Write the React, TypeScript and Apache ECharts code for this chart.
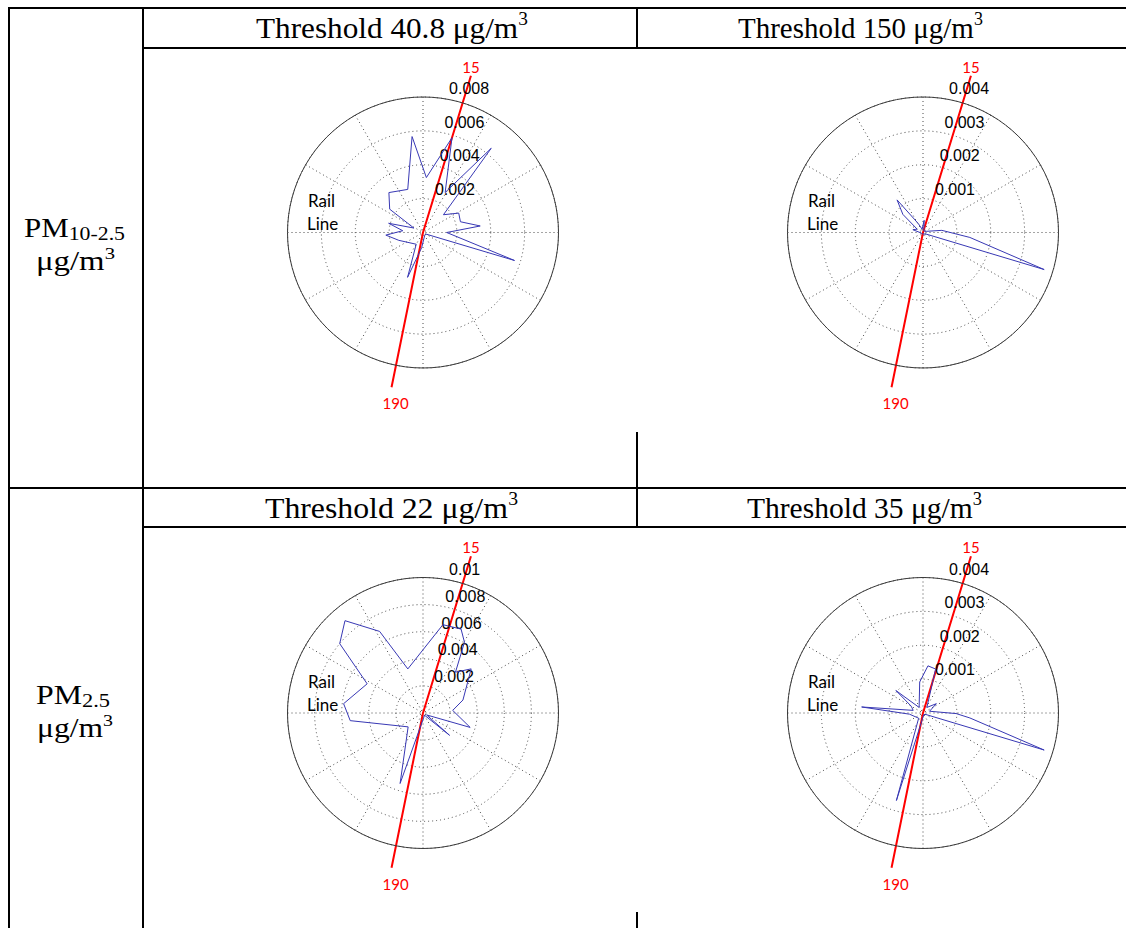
import React, { useEffect, useRef } from "react";
import * as echarts from "echarts";

// ---------------- data ----------------
const rowSubscripts = ["10-2.5", "2.5"];
const thresholds = ["40.8", "150", "22", "35"];

const ringsPm10Low = [0.002, 0.004, 0.006, 0.008];
const ringsPm10High = [0.001, 0.002, 0.003, 0.004];
const ringsPm25Low = [0.002, 0.004, 0.006, 0.008, 0.01];
const ringsPm25High = [0.001, 0.002, 0.003, 0.004];

// bearing (deg clockwise from north) and value
const pm10LowDir = [353.5, 3.5, 17, 29, 39, 49, 61.5, 74, 83.5, 90, 107, 118, 150, 185, 199, 210, 252, 266, 275, 285, 296, 305, 319.5, 340.5];
const pm10LowVal = [0.0057, 0.00325, 0.00585, 0.0027, 0.0064, 0.0016, 0.0024, 0.0023, 0.0034, 0.0014, 0.00565, 0.0002, 0.0002, 0.0009, 0.0028, 0.0008, 0.0015, 0.0022, 0.0012, 0.0021, 0.0006, 0.0024, 0.0031, 0.0027];

const pm10HighDir = [5.5, 30, 70, 83.5, 96, 107, 117, 150, 200, 250, 285.5, 300, 312, 321.5, 332, 345];
const pm10HighVal = [0.00036, 0.00005, 0.0001, 0.00056, 0.00139, 0.00374, 0.0001, 0.00005, 0.00005, 0.00005, 0.00031, 0.0002, 0.0008, 0.00123, 0.0003, 0.0001];

const pm25LowDir = [12.7, 24.4, 30.4, 38.5, 47.5, 72, 85, 107, 118, 130, 145, 198, 227, 264, 276.7, 297.6, 309.8, 319.8, 332, 341];
const pm25LowVal = [0.00668, 0.0068, 0.00605, 0.00385, 0.00482, 0.0031, 0.0022, 0.00364, 0.0003, 0.00256, 0.0002, 0.00547, 0.0015, 0.0054, 0.0059, 0.00465, 0.008, 0.00892, 0.00682, 0.00344];

const pm25HighDir = [6, 16, 35, 55, 75, 91, 96, 107, 117, 150, 196.9, 220, 265, 275.6, 285, 300, 309.7, 325, 353.9];
const pm25HighVal = [0.0014, 0.00135, 0.0002, 0.00048, 0.0002, 0.00098, 0.00139, 0.00374, 0.0001, 0.00005, 0.0027, 0.0002, 0.0004, 0.00182, 0.0003, 0.0004, 0.00104, 0.0002, 0.00092];

const railTopLabel = "15";
const railBottomLabel = "190";
const railTopBearing = 17;
const railBottomBearing = 191.5;
const railWords = ["Rail", "Line"];

// ---------------- layout ----------------
const W = 1126;
const H = 928;
const R = 135.5;
const plots = [
  { center: [423, 232.5], rings: ringsPm10Low, dir: pm10LowDir, val: pm10LowVal, head: [256, 528, 28] },
  { center: [923, 232.5], rings: ringsPm10High, dir: pm10HighDir, val: pm10HighVal, head: [738, 983, 28] },
  { center: [423, 713], rings: ringsPm25Low, dir: pm25LowDir, val: pm25LowVal, head: [265, 518, 508] },
  { center: [923, 713], rings: ringsPm25High, dir: pm25HighDir, val: pm25HighVal, head: [747, 982, 508] },
];
const rowLayout = [
  { pm: [24, 125, 228], unit: [36, 115, 261] },
  { pm: [36, 110, 695], unit: [37, 113, 728] },
];

const SERIF = "'Liberation Serif', 'Times New Roman', serif";
const SANS = "'Liberation Sans', Arial, sans-serif";
const LABEL = "Lato, 'Open Sans', sans-serif";

function measure(txt: string, font: string): number {
  const c = document.createElement("canvas").getContext("2d");
  if (!c) return txt.length * 10;
  c.font = font;
  return c.measureText(txt).width;
}

function composite(base: string, extra: string, left: number, right: number, cy: number, size: number, exSize: number, dy: number) {
  const wb = measure(base, `${size}px ${SERIF}`);
  const we = measure(extra, `${exSize}px ${SERIF}`);
  let k = (right - left) / (wb + we);
  if (!isFinite(k) || k <= 0) k = 1;
  k = Math.max(0.85, Math.min(1.3, k));
  return [
    { type: "text", x: left, y: cy, scaleX: k, style: { text: base, font: `${size}px ${SERIF}`, fill: "#000", align: "left", verticalAlign: "middle" } },
    { type: "text", x: left + wb * k, y: cy + dy, scaleX: k, style: { text: extra, font: `${exSize}px ${SERIF}`, fill: "#000", align: "left", verticalAlign: "middle" } },
  ];
}

export default function App() {
  const ref = useRef<HTMLDivElement>(null);
  useEffect(() => {
    if (!ref.current) return;
    const chart = echarts.init(ref.current, null, { renderer: "svg", width: W, height: H });
    const dotted = { color: "#4a4a4a", width: 1, type: [1, 3] as any };
    const option: any = {
      animation: false,
      backgroundColor: "#fff",
      polar: plots.map((p) => ({ center: p.center, radius: R })),
      angleAxis: plots.map((p, i) => ({
        polarIndex: i, type: "value", min: 0, max: 360, interval: 30, startAngle: 90, clockwise: true,
        axisLine: { show: true, lineStyle: { color: "#3a3a3a", width: 1 } },
        axisTick: { show: false }, axisLabel: { show: false },
        splitLine: { show: true, lineStyle: dotted },
      })),
      radiusAxis: plots.map((p, i) => ({
        polarIndex: i, type: "value", min: 0, max: p.rings[p.rings.length - 1], interval: p.rings[0],
        axisLine: { show: false }, axisTick: { show: false }, axisLabel: { show: false },
        splitLine: { show: true, lineStyle: dotted },
      })),
      series: plots.map((p, i) => ({
        type: "line", coordinateSystem: "polar", polarIndex: i, symbol: "none", silent: true,
        lineStyle: { color: "#3838b4", width: 1 },
        data: [...p.dir.map((d, k) => [p.val[k], d]), [p.val[0], p.dir[0]]],
      })),
    };
    chart.setOption(option);

    const toPx = (i: number, r: number, a: number): number[] => {
      let pt: any = null;
      try { pt = chart.convertToPixel({ polarIndex: i } as any, [r, a]); } catch (e) { pt = null; }
      if (!pt || !isFinite(pt[0]) || !isFinite(pt[1])) {
        const p = plots[i];
        const m = p.rings[p.rings.length - 1];
        const rr = (r / m) * R;
        const rad = (a * Math.PI) / 180;
        pt = [p.center[0] + rr * Math.sin(rad), p.center[1] - rr * Math.cos(rad)];
      }
      return pt;
    };

    const els: any[] = [];
    const ln = (x1: number, y1: number, x2: number, y2: number) =>
      els.push({ type: "line", shape: { x1, y1, x2, y2 }, style: { stroke: "#000", lineWidth: 2 } });
    // table rules
    ln(8, 8, W, 8);
    ln(9, 7, 9, H);
    ln(143, 7, 143, H);
    ln(143, 48, W, 48);
    ln(637, 8, 637, 49);
    ln(637, 432, 637, 488);
    ln(9, 488, W, 488);
    ln(637, 488, 637, 528);
    ln(143, 527, W, 527);
    ln(637, 912, 637, H);

    // headers
    plots.forEach((p, i) => {
      els.push(...composite(`Threshold ${thresholds[i]} μg/m`, "3", p.head[0], p.head[1], p.head[2], 29, 18, -9));
    });
    // row labels
    rowSubscripts.forEach((s, r) => {
      const L = rowLayout[r];
      els.push(...composite("PM", s, L.pm[0], L.pm[1], L.pm[2], 27, 19, 5));
      els.push(...composite("μg/m", "3", L.unit[0], L.unit[1], L.unit[2], 27, 17, -8));
    });

    plots.forEach((p, i) => {
      const m = p.rings[p.rings.length - 1];
      const c = toPx(i, 0, 0);
      const top = toPx(i, m * 1.21, railTopBearing);
      const bot = toPx(i, m * 1.165, railBottomBearing);
      els.push({ type: "polyline", shape: { points: [top, c, bot] }, style: { stroke: "#ff0000", lineWidth: 2, fill: null } });
      els.push({ type: "text", x: top[0], y: top[1] - 9, style: { text: railTopLabel, font: `15px ${LABEL}`, fill: "#ff0000", align: "center", verticalAlign: "middle" } });
      els.push({ type: "text", x: bot[0] + 4, y: bot[1] + 16, style: { text: railBottomLabel, font: `15px ${LABEL}`, fill: "#ff0000", align: "center", verticalAlign: "middle" } });
      // ring labels
      p.rings.forEach((v) => {
        const pt = toPx(i, v + p.rings[0] / 20, 8);
        els.push({ type: "text", x: pt[0] + 7, y: pt[1], style: { text: String(v), font: `16px ${SANS}`, fill: "#000", align: "left", verticalAlign: "bottom" } });
      });
      // rail line words
      els.push({ type: "text", x: c[0] - 115, y: c[1] - 32, style: { text: railWords[0], font: `17px ${LABEL}`, fill: "#000", align: "left", verticalAlign: "middle" } });
      els.push({ type: "text", x: c[0] - 116, y: c[1] - 9, style: { text: railWords[1], font: `17px ${LABEL}`, fill: "#000", align: "left", verticalAlign: "middle" } });
    });

    chart.setOption({ graphic: { elements: els } });
    return () => chart.dispose();
  }, []);
  return <div ref={ref} style={{ position: "fixed", left: 0, top: 0, width: W, height: H, background: "#fff" }} />;
}
